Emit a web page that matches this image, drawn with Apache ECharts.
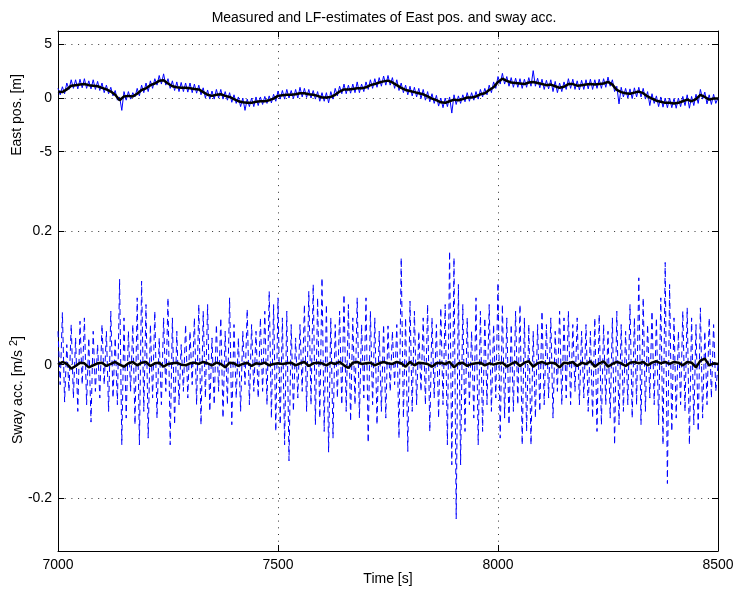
<!DOCTYPE html>
<html>
<head>
<meta charset="utf-8">
<script src="https://cdn.jsdelivr.net/npm/echarts@6/dist/echarts.min.js"></script>
<style>
html,body{margin:0;padding:0;background:#fff;}
#chart{width:734px;height:591px;}
</style>
</head>
<body>
<div id="chart"></div>
<script>
// ---- Data ----
const tStart = 7000, tEnd = 8500;
const xTicks = [7000, 7500, 8000, 8500];
const posTicks = [-5, 0, 5];
const accTicks = [-0.2, 0, 0.2];

// East position, LF estimate (every 10 s)
const eastLF = [
  0.6,0.55,0.8,1.15,1.2,1.25,1.3,1.2,1.15,1.1,
  0.95,0.8,0.6,0.3,-0.2,0.15,0.2,0.15,0.4,0.75,
  0.9,1.2,1.35,1.6,1.65,1.35,1.1,1.0,0.95,0.95,
  0.9,0.85,0.8,0.55,0.3,0.2,0.3,0.35,0.2,0.1,
  -0.1,-0.3,-0.4,-0.45,-0.45,-0.35,-0.3,-0.3,-0.2,-0.05,
  0.2,0.25,0.3,0.3,0.35,0.45,0.45,0.35,0.3,0.2,
  0.05,0.05,0.1,0.3,0.6,0.8,0.8,0.85,0.9,0.9,
  1.0,1.2,1.3,1.45,1.55,1.62,1.45,1.2,0.95,0.75,
  0.65,0.55,0.45,0.35,0.15,-0.05,-0.2,-0.4,-0.45,-0.3,
  -0.15,-0.2,-0.1,0.05,0.05,0.15,0.35,0.45,0.75,1.0,
  1.5,1.8,1.6,1.45,1.4,1.35,1.3,1.45,1.5,1.4,
  1.3,1.2,1.25,1.1,0.95,1.05,1.3,1.3,1.15,1.2,
  1.25,1.3,1.25,1.3,1.35,1.5,1.25,0.75,0.55,0.45,
  0.4,0.5,0.6,0.45,0.15,-0.05,-0.25,-0.35,-0.45,-0.45,
  -0.5,-0.45,-0.3,-0.15,-0.3,-0.1,0.3,0.1,-0.15,-0.05,
  -0.05
];

// East position, measured (every 5 s)
const eastMeas = [
  0.9,0.3,1.05,0.4,1.4,0.8,1.7,0.9,1.7,0.85,
  1.75,0.95,1.8,0.9,1.6,0.85,1.7,0.8,1.55,0.7,
  1.4,0.5,1.2,0.4,1.0,0.2,0.7,-0.2,0.1,-1.15,
  0.6,-0.2,0.6,-0.1,0.5,0.1,0.9,0.2,1.2,0.5,
  1.4,0.6,1.6,0.9,1.8,1.2,2.1,1.3,2.25,1.2,
  1.8,0.9,1.6,0.7,1.5,0.6,1.45,0.6,1.4,0.55,
  1.4,0.5,1.3,0.45,1.2,0.3,0.95,0.0,0.75,-0.1,
  0.65,-0.1,0.8,0.0,0.8,-0.1,0.6,-0.2,0.5,-0.4,
  0.3,-0.5,0.1,-0.8,0.0,-1.15,-0.1,-0.8,0.0,-0.8,
  0.1,-0.7,0.1,-0.6,0.15,-0.5,0.2,-0.45,0.35,-0.3,
  0.65,-0.1,0.7,-0.1,0.8,0.0,0.7,-0.05,0.8,0.0,
  1.0,0.1,0.9,0.05,0.8,0.0,0.7,-0.1,0.6,-0.3,
  0.5,-0.3,0.5,-0.45,0.6,-0.1,0.9,0.2,1.1,0.4,
  1.3,0.4,1.2,0.45,1.3,0.5,1.5,0.5,1.3,0.6,
  1.5,0.8,1.7,0.9,1.8,1.0,1.9,1.1,2.05,1.2,
  2.1,1.2,1.9,0.9,1.7,0.7,1.4,0.5,1.2,0.3,
  1.1,0.2,1.0,0.1,0.9,-0.05,0.8,-0.2,0.6,-0.35,
  0.4,-0.5,0.25,-0.75,0.0,-0.9,0.0,-0.8,0.1,-1.4,
  0.3,-0.6,0.2,-0.5,0.3,-0.35,0.5,-0.3,0.5,-0.2,
  0.6,-0.1,0.8,0.1,0.9,0.3,1.2,0.5,1.5,0.9,
  2.0,1.3,2.3,1.3,2.0,1.1,1.9,1.0,1.85,1.0,
  1.8,0.9,1.75,1.0,1.9,1.1,2.55,1.1,1.85,0.95,
  1.75,0.8,1.65,0.85,1.7,0.6,1.55,0.5,1.4,0.6,
  1.5,0.8,1.8,0.9,1.75,0.8,1.6,0.75,1.65,0.8,
  1.7,0.85,1.75,0.8,1.7,0.9,1.75,0.9,1.8,1.0,
  1.95,1.1,1.7,0.6,1.1,-0.55,1.0,0.1,0.9,0.0,
  0.85,-0.05,0.95,0.1,1.0,0.1,0.9,-0.1,0.6,-0.7,
  0.4,-0.5,0.2,-0.8,0.1,-0.85,0.0,-0.9,0.0,-0.9,
  -0.05,-0.95,0.0,-0.8,0.15,-0.7,0.3,-0.95,0.15,-0.7,
  0.35,-0.5,0.8,-0.1,0.55,-0.55,0.3,-0.6,0.35,-0.5,
  0.0
];

// Sway acceleration, measured (every 5 s)
const swayMeas = [
  0.05,-0.03,0.078,-0.056,0.03,-0.04,0.06,-0.05,0.04,-0.07,
  0.065,-0.03,0.07,-0.06,0.04,-0.086,0.05,-0.04,0.03,-0.05,
  0.06,-0.03,0.05,-0.07,0.08,-0.05,0.04,-0.06,0.128,-0.12,
  0.07,-0.08,0.05,-0.04,0.06,-0.09,0.10,-0.12,0.125,-0.07,
  0.09,-0.11,0.06,-0.05,0.08,-0.08,0.04,-0.06,0.07,-0.04,
  0.10,-0.12,0.07,-0.09,0.05,-0.06,0.03,-0.04,0.06,-0.05,
  0.05,-0.03,0.07,-0.06,0.09,-0.09,0.08,-0.05,0.09,-0.07,
  0.04,-0.06,0.06,-0.04,0.07,-0.08,0.05,-0.06,0.10,-0.09,
  0.06,-0.05,0.04,-0.07,0.05,-0.03,0.083,-0.06,0.06,-0.04,
  0.05,-0.05,0.07,-0.04,0.08,-0.06,0.11,-0.08,0.09,-0.10,
  0.10,-0.09,0.07,-0.12,0.08,-0.144,0.06,-0.07,0.04,-0.05,
  0.06,-0.04,0.09,-0.07,0.11,-0.06,0.12,-0.09,0.10,-0.08,
  0.13,-0.10,0.09,-0.131,0.07,-0.11,0.06,-0.05,0.08,-0.06,
  0.105,-0.07,0.09,-0.085,0.07,-0.06,0.10,-0.08,0.06,-0.05,
  0.10,-0.117,0.08,-0.06,0.07,-0.09,0.05,-0.07,0.06,-0.08,
  0.058,-0.04,0.05,-0.03,0.06,-0.11,0.16,-0.08,0.07,-0.13,
  0.095,-0.07,0.08,-0.06,0.05,-0.04,0.07,-0.06,0.09,-0.10,
  0.07,-0.05,0.06,-0.08,0.085,-0.06,0.09,-0.12,0.17,-0.15,
  0.16,-0.231,0.12,-0.15,0.09,-0.10,0.07,-0.06,0.05,-0.08,
  0.10,-0.12,0.08,-0.10,0.07,-0.06,0.09,-0.07,0.06,-0.05,
  0.123,-0.11,0.09,-0.08,0.07,-0.09,0.06,-0.07,0.08,-0.06,
  0.09,-0.12,0.07,-0.10,0.06,-0.12,0.05,-0.08,0.06,-0.07,
  0.08,-0.06,0.06,-0.05,0.07,-0.08,0.05,-0.04,0.08,-0.06,
  0.07,-0.05,0.08,-0.06,0.06,-0.04,0.07,-0.06,0.05,-0.05,
  0.06,-0.07,0.05,-0.08,0.07,-0.10,0.075,-0.09,0.06,-0.06,
  0.05,-0.08,0.07,-0.12,0.08,-0.09,0.06,-0.07,0.05,-0.06,
  0.09,-0.08,0.07,-0.06,0.13,-0.09,0.10,-0.07,0.06,-0.05,
  0.08,-0.06,0.07,-0.09,0.10,-0.12,0.153,-0.178,0.12,-0.10,
  0.07,-0.08,0.05,-0.06,0.08,-0.07,0.085,-0.12,0.07,-0.09,
  0.06,-0.10,0.085,-0.08,0.05,-0.06,0.07,-0.05,0.06,-0.04,
  0.0
];

// Sway acceleration, LF estimate (every 10 s)
const swayLF = [
  0.000,0.004,0.001,-0.006,-0.002,0.003,0.002,-0.004,-0.001,0.002,
  0.003,-0.002,0.001,0.004,0.000,-0.003,0.002,0.004,-0.001,0.003,
  0.004,-0.002,0.002,0.003,-0.003,0.001,0.002,0.003,0.000,-0.001,
  0.002,0.003,0.001,0.004,0.002,-0.001,0.003,0.001,-0.004,0.003,
  0.002,-0.002,0.001,0.003,-0.002,0.002,0.001,0.003,-0.001,0.001,
  0.002,0.001,0.002,0.003,-0.001,0.002,0.004,-0.002,0.002,0.003,
  0.002,-0.001,0.003,0.001,0.004,-0.001,-0.005,0.003,0.004,0.001,
  0.002,0.003,-0.001,0.002,0.004,0.002,0.001,0.004,0.002,-0.003,
  0.004,-0.001,0.003,0.002,0.001,-0.003,0.002,0.003,0.001,0.004,
  -0.004,0.002,0.003,-0.002,0.001,0.002,0.003,-0.001,0.002,0.000,
  0.002,0.003,-0.003,0.001,0.004,-0.002,0.003,0.005,-0.003,0.002,
  0.004,0.001,0.003,0.002,-0.004,0.003,0.002,0.004,-0.002,0.003,
  0.001,0.005,-0.003,0.002,0.005,-0.003,0.001,0.004,0.002,-0.002,
  0.003,0.004,0.002,0.004,-0.001,0.003,0.005,0.002,0.004,0.001,
  0.004,0.003,-0.001,0.004,0.003,-0.004,0.006,0.009,-0.001,0.002,
  0.001
];

const titleText = 'Measured and LF-estimates of East pos. and sway acc.';
const xName = 'Time [s]';
const posName = 'East pos. [m]';

// ---- build ----
function pairs(arr) {
  const n = arr.length;
  return arr.map((v, i) => [tStart + i * (tEnd - tStart) / (n - 1), v]);
}
const FONT = 'Liberation Sans, Arial, Helvetica, sans-serif';
const FS = 14;
const gridDot = { color: '#333', width: 1, type: [1, 5.7] };
const axisLine = { show: true, onZero: false, lineStyle: { color: '#000', width: 1 } };
const tickIn = (vals) => ({ show: true, inside: true, length: 6, lineStyle: { color: '#000' }, customValues: vals });
const numFmt = (v) => (Math.abs(v) < 1e-9 ? '0' : String(+(+v).toFixed(2)));

const posMin = -9.4, posMax = 6.24;
const accMin = -0.279, accMax = 0.248;

const chart = echarts.init(document.getElementById('chart'), null, { renderer: 'canvas' });
chart.setOption({
  animation: false,
  backgroundColor: '#fff',
  title: {
    text: titleText, left: 379, top: 6, textAlign: 'center',
    textStyle: { fontFamily: FONT, fontSize: 14, fontWeight: 'normal', color: '#000' }
  },
  grid: [
    { left: 58, right: 16, top: 31, height: 168, outerBoundsMode: 'none', containLabel: false },
    { left: 58, right: 16, top: 199, bottom: 40, outerBoundsMode: 'none', containLabel: false }
  ],
  xAxis: [
    { gridIndex: 0, type: 'value', min: tStart, max: tEnd, interval: 500, position: 'top',
      axisLine: axisLine, axisTick: tickIn(xTicks), axisLabel: { show: false },
      splitLine: { show: true, lineStyle: gridDot } },
    { gridIndex: 1, type: 'value', min: tStart, max: tEnd, interval: 500, position: 'bottom',
      axisLine: axisLine, axisTick: tickIn(xTicks),
      axisLabel: { show: true, margin: 7, color: '#000', fontFamily: FONT, fontSize: FS,
        customValues: xTicks, formatter: (v) => String(v) },
      splitLine: { show: true, lineStyle: gridDot },
      name: xName, nameLocation: 'middle', nameGap: 21, nameMoveOverlap: false,
      nameTextStyle: { color: '#000', fontFamily: FONT, fontSize: FS } }
  ],
  yAxis: [
    { gridIndex: 0, type: 'value', min: posMin, max: posMax, splitNumber: 3, position: 'left',
      axisLine: axisLine, axisTick: tickIn(posTicks),
      axisLabel: { show: true, margin: 6, color: '#000', fontFamily: FONT, fontSize: FS,
        customValues: posTicks, formatter: numFmt },
      splitLine: { show: true, lineStyle: gridDot },
      name: posName, nameLocation: 'middle', nameGap: 34, nameRotate: 90, nameMoveOverlap: false,
      nameTextStyle: { color: '#000', fontFamily: FONT, fontSize: FS } },
    { gridIndex: 0, type: 'value', min: posMin, max: posMax, splitNumber: 3, position: 'right',
      axisLine: axisLine, axisTick: tickIn(posTicks), axisLabel: { show: false }, splitLine: { show: false } },
    { gridIndex: 1, type: 'value', min: accMin, max: accMax, splitNumber: 3, position: 'left',
      axisLine: axisLine, axisTick: tickIn(accTicks),
      axisLabel: { show: true, margin: 6, color: '#000', fontFamily: FONT, fontSize: FS,
        customValues: accTicks, formatter: numFmt },
      splitLine: { show: true, lineStyle: gridDot },
      name: '{a|Sway acc. [m/s }{s|2}{a|]}', nameLocation: 'middle', nameGap: 33, nameRotate: 90,
      nameMoveOverlap: false,
      nameTextStyle: { color: '#000', fontFamily: FONT, fontSize: FS, padding: [0, 30, 0, 0],
        rich: { a: { fontFamily: FONT, fontSize: FS, color: '#000', lineHeight: 17, verticalAlign: 'bottom' },
                s: { fontFamily: FONT, fontSize: 11, color: '#000', lineHeight: 17, verticalAlign: 'top' } } } },
    { gridIndex: 1, type: 'value', min: accMin, max: accMax, splitNumber: 3, position: 'right',
      axisLine: axisLine, axisTick: tickIn(accTicks), axisLabel: { show: false }, splitLine: { show: false } }
  ],
  series: [
    { type: 'line', xAxisIndex: 0, yAxisIndex: 0, data: pairs(eastMeas), showSymbol: false, symbol: 'none',
      lineStyle: { color: '#0000ff', width: 1 }, clip: true, silent: true },
    { type: 'line', xAxisIndex: 0, yAxisIndex: 0, data: pairs(eastLF), showSymbol: false, symbol: 'none',
      lineStyle: { color: '#000', width: 2.5 }, clip: true, silent: true },
    { type: 'line', xAxisIndex: 1, yAxisIndex: 2, data: pairs(swayMeas), showSymbol: false, symbol: 'none',
      lineStyle: { color: '#0000ff', width: 1, type: [6, 4] }, clip: true, silent: true },
    { type: 'line', xAxisIndex: 1, yAxisIndex: 2, data: pairs(swayLF), showSymbol: false, symbol: 'none',
      lineStyle: { color: '#000', width: 2.5 }, clip: true, silent: true }
  ]
});
</script>
</body>
</html>
